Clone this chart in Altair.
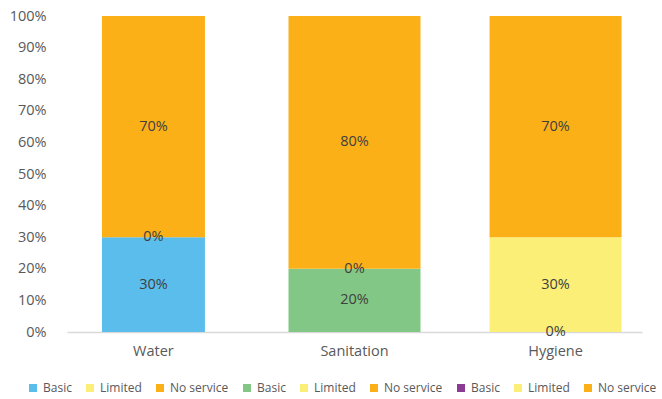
import altair as alt
import pandas as pd

categories = ["Water", "Sanitation", "Hygiene"]
services = ["Basic", "Limited", "No service"]
basic = [30, 20, 0]
limited = [0, 0, 30]
no_service = [70, 80, 70]

rows = []
for i, c in enumerate(categories):
    for j, (s, v) in enumerate(zip(services, [basic[i], limited[i], no_service[i]])):
        rows.append(dict(category=c, service=s, key=f"{c}|{s}", value=v, order=j))
df = pd.DataFrame(rows)

keys = [f"{c}|{s}" for c in categories for s in services]
colors = ["#5BBDEC", "#FCEF78", "#FCB018",
          "#82C785", "#FCEF78", "#FCB018",
          "#8B3A96", "#FCEF78", "#FCB018"]

FONT = "Open Sans"
LEGEND_FONT = "Open Sans"

base = alt.Chart(df).transform_stack(
    stack="value", groupby=["category"], as_=["y0", "y1"],
    sort=[alt.SortField("order", order="ascending")]
).transform_calculate(
    ymid="(datum.y0 + datum.y1) / 2",
    label="datum.value + '%'"
)

yscale = alt.Scale(domain=[0, 100], nice=False)
yaxis = alt.Axis(values=list(range(0, 101, 10)), labelExpr="datum.value + '%'",
                 labelOverlap=False, grid=False, domain=False, ticks=False,
                 title=None, labelFont=FONT, labelFontSize=14.5,
                 labelColor="#595959", labelPadding=19)

x = alt.X("category:N", sort=categories,
          scale=alt.Scale(range=[2, 577], paddingInner=0.3, paddingOuter=0.08),
          axis=alt.Axis(title=None, labelAngle=0, ticks=False, domainColor="#D9D9D9",
                        domainWidth=1.5, labelFont=FONT, labelFontSize=14.5,
                        labelColor="#595959", labelPadding=12))
y = alt.Y("y0:Q", scale=yscale, axis=yaxis)
color = alt.Color("key:N", scale=alt.Scale(domain=keys, range=colors),
                  legend=alt.Legend(title=None, orient="none", direction="horizontal",
                                    columns=9, legendX=-38, legendY=366, padding=0,
                                    labelExpr="split(datum.label, '|')[1]",
                                    symbolType="square", symbolSize=64,
                                    symbolStrokeWidth=0, labelFont=LEGEND_FONT,
                                    labelFontSize=12, labelColor="#595959",
                                    columnPadding=12, labelOffset=4))

water = base.transform_filter("datum.category == 'Water'").mark_bar(size=103).encode(
    x=x, y=y, y2="y1", color=color)
others = base.transform_filter("datum.category != 'Water'").mark_bar(size=132).encode(
    x=x, y=y, y2="y1", color=color)
labels = base.mark_text(font=FONT, fontSize=14.5, color="#404040", baseline="middle").encode(
    x=x, y=alt.Y("ymid:Q", scale=yscale, axis=yaxis), text="label:N")

chart = alt.layer(water, others, labels).properties(
    width=595, height=316,
    autosize=alt.AutoSizeParams(type="none"),
    padding={"left": 65, "top": 16, "right": 2, "bottom": 67},
).configure_view(stroke=None)

chart.save("out.html", embed_options={"renderer": "svg", "actions": False})
